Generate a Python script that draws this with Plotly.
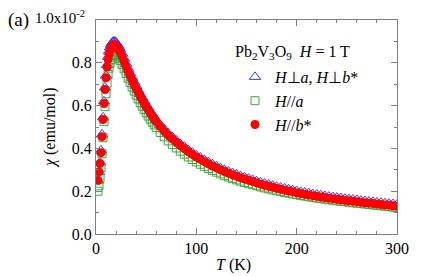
import plotly.graph_objects as go

T = [2, 3, 4, 5, 6, 7, 8, 9, 10, 11, 12, 13, 14, 15, 16, 17, 18, 19, 20, 21, 22, 23, 24,
     26, 28, 30, 32, 34, 36, 38, 40, 42, 44, 46, 48, 50, 52, 54, 56, 58, 60,
     64, 68, 72, 76, 80, 84, 88, 92, 96, 100, 104, 108, 112, 116, 120, 124, 128, 132, 136, 140,
     144, 148, 152, 156, 160, 164, 168, 172, 176, 180, 184, 188, 192, 196, 200, 204, 208, 212,
     216, 220, 224, 228, 232, 236, 240, 244, 248, 252, 256, 260, 264, 268, 272, 276, 280, 284,
     288, 292, 296, 300]

chi_perp = [0.25, 0.29, 0.335, 0.39, 0.465, 0.545, 0.62, 0.685, 0.74, 0.79, 0.828, 0.854, 0.872,
            0.885, 0.893, 0.898, 0.900, 0.898, 0.894, 0.888, 0.880, 0.872, 0.863,
            0.843, 0.819, 0.795, 0.772, 0.751, 0.730, 0.710, 0.691, 0.672, 0.654, 0.637, 0.620,
            0.604, 0.589, 0.574, 0.560, 0.546, 0.533,
            0.510, 0.489, 0.470, 0.453, 0.437, 0.421, 0.407, 0.393, 0.380, 0.368, 0.357, 0.346,
            0.336, 0.326, 0.317, 0.308, 0.300, 0.292, 0.285, 0.278, 0.271, 0.265, 0.259, 0.253,
            0.247, 0.241, 0.236, 0.231, 0.226, 0.221, 0.217, 0.213, 0.209, 0.205, 0.201, 0.197,
            0.194, 0.190, 0.187, 0.184, 0.181, 0.178, 0.175, 0.173, 0.170, 0.168, 0.165, 0.163,
            0.161, 0.159, 0.156, 0.154, 0.152, 0.150, 0.148, 0.146, 0.144, 0.142, 0.140, 0.138]

chi_a = [0.20, 0.225, 0.26, 0.31, 0.375, 0.45, 0.525, 0.595, 0.655, 0.705, 0.745, 0.775, 0.798,
         0.815, 0.827, 0.835, 0.839, 0.840, 0.838, 0.833, 0.827, 0.819, 0.811,
         0.793, 0.772, 0.750, 0.728, 0.707, 0.687, 0.668, 0.649, 0.631, 0.614, 0.597, 0.581,
         0.566, 0.551, 0.537, 0.523, 0.510, 0.497,
         0.474, 0.454, 0.435, 0.418, 0.402, 0.387, 0.373, 0.360, 0.348, 0.337, 0.326, 0.316,
         0.306, 0.297, 0.289, 0.281, 0.273, 0.266, 0.259, 0.253, 0.247, 0.241, 0.235, 0.230,
         0.225, 0.220, 0.215, 0.211, 0.206, 0.202, 0.198, 0.194, 0.191, 0.187, 0.184, 0.180,
         0.177, 0.174, 0.171, 0.168, 0.165, 0.163, 0.160, 0.158, 0.155, 0.153, 0.151, 0.148,
         0.146, 0.144, 0.142, 0.140, 0.138, 0.136, 0.134, 0.132, 0.130, 0.128, 0.126, 0.124]

chi_b = [0.25, 0.29, 0.33, 0.38, 0.455, 0.535, 0.61, 0.675, 0.73, 0.78, 0.815, 0.84, 0.858,
         0.870, 0.878, 0.883, 0.885, 0.883, 0.879, 0.873, 0.866, 0.858, 0.850,
         0.830, 0.806, 0.783, 0.761, 0.740, 0.720, 0.700, 0.681, 0.663, 0.645, 0.628, 0.612,
         0.596, 0.581, 0.566, 0.552, 0.538, 0.525,
         0.502, 0.481, 0.462, 0.445, 0.429, 0.413, 0.399, 0.385, 0.372, 0.360, 0.349, 0.338,
         0.328, 0.318, 0.309, 0.300, 0.292, 0.284, 0.277, 0.270, 0.263, 0.257, 0.251, 0.245,
         0.239, 0.233, 0.228, 0.223, 0.218, 0.213, 0.209, 0.205, 0.201, 0.197, 0.193, 0.189,
         0.186, 0.182, 0.179, 0.176, 0.173, 0.170, 0.167, 0.165, 0.162, 0.160, 0.157, 0.155,
         0.153, 0.151, 0.148, 0.146, 0.144, 0.142, 0.140, 0.138, 0.136, 0.134, 0.132, 0.130]

y_tickvals = [0.0, 0.2, 0.4, 0.6, 0.8]
y_ticktext = ["0.0", "0.2", "0.4", "0.6", "0.8"]
x_tickvals = [0, 100, 200, 300]

FONT = "Liberation Serif, Times New Roman, Times, serif"
AX = "#808080"
L, R, TOP, B = 96, 39, 20, 42
W, H = 436, 276
PW, PH = W - L - R, H - TOP - B


def px_x(p):
    return (p - L) / PW


def px_y(p):
    return (H - B - p) / PH


fig = go.Figure()
fig.add_trace(go.Scatter(
    x=T, y=chi_perp, mode="markers",
    name="<i>H</i>\u22a5<i>a</i>, <i>H</i>\u22a5<i>b</i>*",
    marker=dict(symbol="triangle-up-open", size=10, color="#3a3aff", line=dict(width=1))))
fig.add_trace(go.Scatter(
    x=T, y=chi_a, mode="markers",
    name="<i>H</i>//<i>a</i>",
    marker=dict(symbol="square-open", size=8, color="#3cab3c", line=dict(width=1))))
fig.add_trace(go.Scatter(
    x=T, y=chi_b, mode="markers",
    name="<i>H</i>//<i>b</i>*",
    marker=dict(symbol="circle", size=9, color="#ff0000", line=dict(width=0))))

axis_common = dict(
    showline=True, linecolor=AX, linewidth=1, mirror="ticks",
    ticks="inside", ticklen=6, tickcolor=AX, tickwidth=1,
    showgrid=False, zeroline=False, automargin=False,
    tickfont=dict(family=FONT, size=16, color="black"),
)

fig.update_xaxes(
    range=[0, 300], tickvals=x_tickvals,
    minor=dict(dtick=20, ticks="inside", ticklen=3, tickcolor=AX, showgrid=False),
    **axis_common)
fig.update_yaxes(
    range=[0, 1.0], tickvals=y_tickvals, ticktext=y_ticktext,
    minor=dict(dtick=0.1, ticks="inside", ticklen=3, tickcolor=AX, showgrid=False),
    **axis_common)

ann_font = dict(family=FONT, size=16, color="black")
fig.add_annotation(text="(a)", xref="paper", yref="paper", x=px_x(6), y=px_y(20),
                   xanchor="left", yanchor="middle", showarrow=False,
                   font=dict(family=FONT, size=19, color="black"))
fig.add_annotation(text="1.0x10<sup>-2</sup>", xref="paper", yref="paper", x=px_x(87), y=px_y(17),
                   xanchor="right", yanchor="middle", showarrow=False,
                   font=dict(family=FONT, size=15, color="black"))
fig.add_annotation(text="<i>\u03c7</i> (emu/mol)", xref="paper", yref="paper", x=px_x(50), y=px_y(128),
                   xanchor="center", yanchor="middle", textangle=-90, showarrow=False, font=ann_font)
fig.add_annotation(text="<i>T</i> (K)", xref="paper", yref="paper", x=px_x(233), y=px_y(265),
                   xanchor="center", yanchor="middle", showarrow=False, font=ann_font)
fig.add_annotation(text="Pb<sub>2</sub>V<sub>3</sub>O<sub>9</sub>\u00a0\u00a0<i>H</i> = 1 T",
                   xref="paper", yref="paper", x=px_x(233), y=px_y(53),
                   xanchor="left", yanchor="middle", showarrow=False, font=ann_font)

fig.update_layout(
    width=W, height=H,
    margin=dict(l=L, r=R, t=TOP, b=B),
    paper_bgcolor="white", plot_bgcolor="white",
    font=dict(family=FONT, size=16, color="black"),
    showlegend=True,
    legend=dict(
        x=px_x(235), y=px_y(60), xanchor="left", yanchor="top",
        bgcolor="rgba(0,0,0,0)", borderwidth=0,
        font=dict(family=FONT, size=16, color="black"),
        tracegroupgap=0, itemsizing="trace",
    ),
)

fig.write_html("out.html",
               config={"displayModeBar": False},
               post_script="document.body.style.margin='0';document.body.style.overflow='hidden';")
